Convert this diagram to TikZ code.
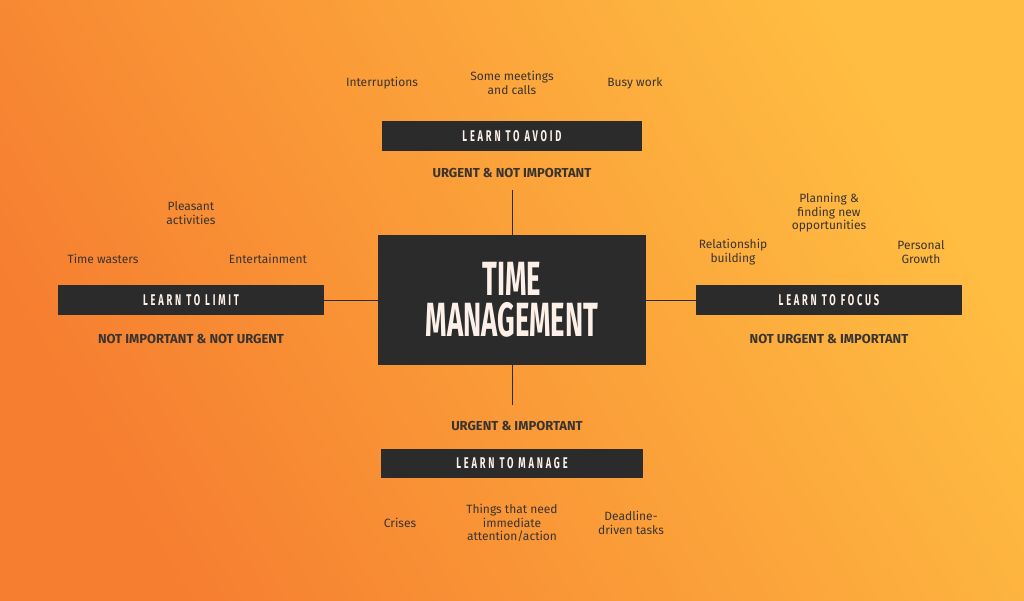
\documentclass[tikz,border=0pt]{standalone}
\usepackage{fontspec}
\setmainfont{Fira Sans}
\newfontfamily\headfont[FakeStretch=0.57]{Fira Sans}
\newfontfamily\barfont[FakeStretch=0.6, LetterSpace=18]{Fira Sans}
\usetikzlibrary{positioning}
\definecolor{orangedark}{RGB}{246,126,48}
\definecolor{orangelight}{RGB}{255,190,66}
\definecolor{barbg}{RGB}{43,43,43}
\definecolor{cream}{RGB}{252,240,232}
\definecolor{ink}{RGB}{58,52,48}

\begin{document}
\begin{tikzpicture}[x=1pt, y=-1pt,
  bar/.style={fill=barbg, text=cream, minimum width=266pt, minimum height=30pt, inner sep=0pt,
    font=\barfont\bfseries\fontsize{15.5}{15.5}\selectfont},
  item/.style={text=ink, align=center, inner sep=1pt, font=\fontsize{12}{13.5}\selectfont},
  quad/.style={text=ink, inner sep=1pt, font=\bfseries\fontsize{13}{13}\selectfont},
  link/.style={draw=barbg, line width=1pt}
]
  \useasboundingbox (0,0) rectangle (1024,600);
  \shade[bottom color=orangedark, top color=orangelight, shading angle=-60] (0,0) rectangle (1024,600);

  % centre
  \node[fill=barbg, minimum width=268pt, minimum height=130pt, inner sep=0pt, align=center, text=cream,
    font=\headfont\bfseries\fontsize{48}{41}\selectfont] (tm) at (512,300) {TIME\\MANAGEMENT};

  % the four bars
  \node[bar, minimum width=260pt] (avoid) at (512,136) {LEARN TO AVOID};
  \node[bar] (limit) at (191,300) {LEARN TO LIMIT};
  \node[bar] (focus) at (829,300) {LEARN TO FOCUS};
  \node[bar, minimum width=262pt, minimum height=29pt] (manage) at (512,463) {LEARN TO MANAGE};

  \node[quad] (qavoid) at (512,173) {URGENT \& NOT IMPORTANT};
  \node[quad] (qlimit) at (191,339) {NOT IMPORTANT \& NOT URGENT};
  \node[quad] (qfocus) at (829,339) {NOT URGENT \& IMPORTANT};
  \node[quad] (qmanage) at (517,426) {URGENT \& IMPORTANT};

  % items
  \node[item] (interrupt) at (382,83) {Interruptions};
  \node[item] (meetings) at (512,83) {Some meetings\\and calls};
  \node[item] (busy) at (635,83) {Busy work};

  \node[item] (pleasant) at (191,213) {Pleasant\\activities};
  \node[item] (wasters) at (103,259) {Time wasters};
  \node[item] (entertain) at (268,259) {Entertainment};

  \node[item] (planning) at (829,213) {Planning \&\\finding new\\opportunities};
  \node[item] (relation) at (733,252) {Relationship\\building};
  \node[item] (growth) at (921,252) {Personal\\Growth};

  \node[item] (crises) at (400,523) {Crises};
  \node[item] (things) at (512,523) {Things that need\\immediate\\attention/action};
  \node[item] (deadline) at (631,523) {Deadline-\\driven tasks};

  % connectors
  \coordinate (topend) at (512,190);
  \coordinate (botend) at (512,405);
  \draw[link] (tm.north) -- (topend);
  \draw[link] (tm.south) -- (botend);
  \draw[link] (tm.west) -- (limit.east);
  \draw[link] (tm.east) -- (focus.west);
\end{tikzpicture}
\end{document}
